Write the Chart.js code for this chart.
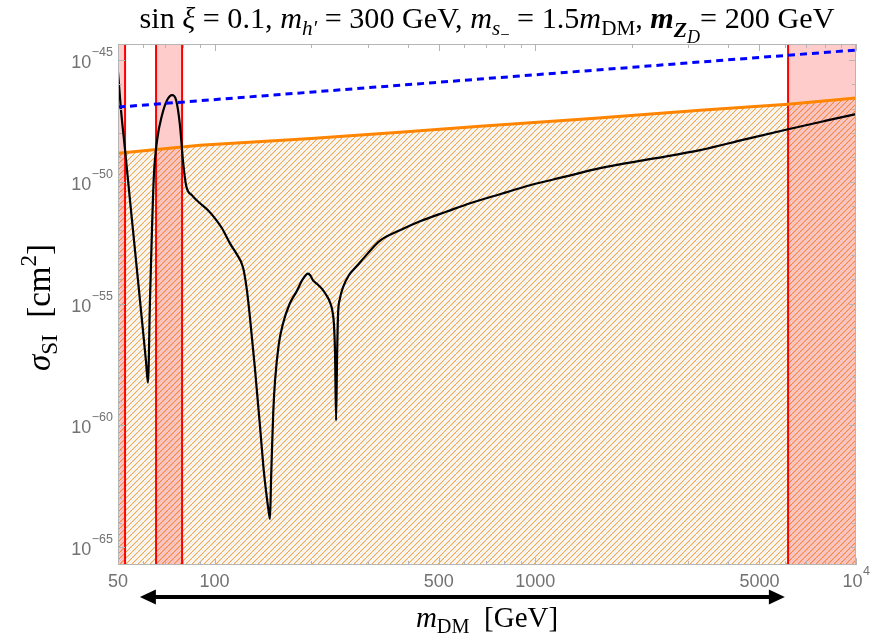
<!DOCTYPE html>
<html><head><meta charset="utf-8">
<script src="https://cdn.jsdelivr.net/npm/chart.js@4.4.1/dist/chart.umd.min.js"></script>
<style>html,body{margin:0;padding:0;background:#fff}canvas{display:block}</style>
</head><body>
<canvas id="c" width="885" height="636"></canvas>
<script>
// ---- data (x: m_DM in GeV, y: log10 of sigma_SI in cm^2) ----
const blackMass = [50, 51.1, 52.6, 54.5, 56.9, 59.4, 61.1, 62.0, 62.9, 63.8, 64.7, 66.2, 68.6, 71.1, 73.7, 75.9, 78.0, 79.7, 81.5, 85.1, 90.1, 95.4, 100.3, 105.5, 111.7, 117.0, 122.7, 126.0, 129.0, 133.5, 138.7, 142.0, 144.7, 147.0, 148.9, 150.0, 151.1, 152.5, 154.4, 158.5, 163.5, 171.0, 180.8, 188.0, 195.6, 199.0, 202.8, 209.0, 216.3, 223.0, 229.1, 233.0, 235.8, 237.5, 239.3, 241.0, 242.6, 246.0, 251.5, 262.0, 278.2, 300.0, 328.1, 380.0, 437.3, 530.0, 626.2, 780.0, 963, 1250, 1592, 2300, 3265, 4500, 6141, 8000, 10000];
const blackLogSigma = [-45.49, -47.06, -48.70, -50.76, -53.23, -55.70, -57.35, -58.25, -54.88, -52.0, -49.73, -48.29, -47.26, -46.65, -46.44, -46.65, -47.67, -49.12, -50.14, -50.56, -50.88, -51.17, -51.50, -51.91, -52.53, -52.95, -53.52, -54.40, -55.60, -57.60, -60.10, -61.70, -62.70, -63.40, -63.85, -62.30, -60.93, -59.40, -58.17, -56.70, -55.82, -55.05, -54.47, -54.02, -53.77, -53.85, -54.05, -54.20, -54.40, -54.65, -54.95, -55.30, -55.90, -57.00, -59.81, -57.20, -55.50, -54.80, -54.34, -53.85, -53.45, -52.95, -52.42, -51.98, -51.62, -51.22, -50.88, -50.50, -50.14, -49.78, -49.44, -49.06, -48.70, -48.26, -47.84, -47.50, -47.22];
const orangeMass = [50, 90, 200, 378, 673, 1500, 3265, 6141, 10000];
const orangeLogSigma = [-48.83, -48.50, -48.22, -47.96, -47.72, -47.40, -47.06, -46.81, -46.56];
const blueMass = [50, 3265, 10000];
const blueLogSigma = [-46.93, -45.08, -44.59];
const excludedBands = [[50, 52.6], [65.7, 79.2], [6140, 10000]];
const arrowRange = [58.5, 6000];
const xRange = [50, 10000];
const yLogRange = [-65.74, -44.34];
const xTickValues = [50, 100, 500, 1000, 5000, 10000];
const xTickLabels = [['50',''], ['100',''], ['500',''], ['1000',''], ['5000',''], ['10','4']];
const yTickExponents = [-65, -60, -55, -50, -45];
const titleRuns = [
  {t:'sin ', f:'r'}, {t:'\u03BE', f:'i'}, {t:' = 0.1, ', f:'r'},
  {t:'m', f:'i'}, {t:'h\u2032', f:'i', s:0.7, dy:0.22},
  {t:' = 300 GeV, ', f:'r'},
  {t:'m', f:'i'}, {t:'s', f:'i', s:0.7, dy:0.22}, {t:'\u2212', f:'r', s:0.55, dy:0.4},
  {t:' = 1.5', f:'r'}, {t:'m', f:'i'}, {t:'DM', f:'r', s:0.7, dy:0.22},
  {t:', ', f:'r'},
  {t:'m', f:'bi'}, {t:'Z', f:'bi', s:0.72, dy:0.3}, {t:'D', f:'i', s:0.6, dy:0.5},
  {t:'= 200 GeV', f:'r'}
];
const xLabelRuns = [{t:'m', f:'i'}, {t:'DM', f:'r', s:0.7, dy:0.22}, {t:'  [GeV]', f:'r'}];
const yLabelRuns = [{t:'\u03C3', f:'i'}, {t:'SI', f:'r', s:0.7, dy:0.22}, {t:'  [cm', f:'r'}, {t:'2', f:'r', s:0.7, dy:-0.42}, {t:']', f:'r'}];

// ---- helpers ----
function pts(xs, ls){ return xs.map((x,i)=>({x:x, y:Math.pow(10, ls[i])})); }
function runFont(r, size){
  const st = r.f==='i'?'italic ':r.f==='b'?'bold ':r.f==='bi'?'italic bold ':'';
  return st + (size*(r.s||1)).toFixed(2) + 'px "Liberation Serif", "DejaVu Serif", serif';
}
function measureRuns(ctx, runs, size){ let w=0; for(const r of runs){ ctx.font=runFont(r,size); w+=ctx.measureText(r.t).width; } return w; }
function drawRuns(ctx, runs, x0, y, size){
  let x=x0; ctx.textAlign='left'; ctx.textBaseline='alphabetic';
  for(const r of runs){ ctx.font=runFont(r,size); ctx.fillText(r.t, x, y+(r.dy||0)*size); x+=ctx.measureText(r.t).width; }
}
function makeHatch(){
  const s=6, c=document.createElement('canvas'); c.width=s; c.height=s;
  const g=c.getContext('2d');
  function diag(off, col, lw){
    g.strokeStyle=col; g.lineWidth=lw;
    for(let k=-1;k<=1;k++){ g.beginPath(); g.moveTo(k*s+off-s, s); g.lineTo(k*s+off, 0); g.stroke(); }
  }
  diag(s/2, 'rgba(150,150,150,0.22)', 0.8);
  diag(s, 'rgba(238,158,62,0.95)', 1.1);
  return g.createPattern(c, 'repeat');
}
const hatch = makeHatch();
const SANS = '"Liberation Sans", "DejaVu Sans", Arial, sans-serif';
const TICK_COLOR = '#727272';

const decor = {
  id:'decor',
  afterDatasetDraw(chart, args){
    if(args.index !== 3) return;
    const ctx=chart.ctx, xs=chart.scales.x, a=chart.chartArea;
    ctx.save();
    for(const b of excludedBands){
      const x1=xs.getPixelForValue(b[0]), x2=xs.getPixelForValue(b[1]);
      ctx.fillStyle='rgba(255,0,0,0.2)'; ctx.fillRect(x1, a.top, x2-x1, a.bottom-a.top);
      ctx.strokeStyle='#ff0000'; ctx.lineWidth=2;
      for(const v of b){ if(v>xRange[0] && v<xRange[1]){ const px=xs.getPixelForValue(v); ctx.beginPath(); ctx.moveTo(px,a.top); ctx.lineTo(px,a.bottom); ctx.stroke(); } }
    }
    ctx.restore();
  },
  afterDraw(chart){
    const ctx=chart.ctx, xs=chart.scales.x, ys=chart.scales.y, a=chart.chartArea;
    ctx.save();
    // frame
    ctx.strokeStyle='#b5b5b5'; ctx.lineWidth=1;
    ctx.strokeRect(a.left+0.5, a.top+0.5, a.right-a.left-1, a.bottom-a.top-1);
    // inward ticks
    ctx.beginPath();
    for(let d=10; d<=10000; d*=10){
      for(let k=1;k<=9;k++){
        const v=k*d; if(v<xRange[0]||v>xRange[1]) continue;
        const L = xTickValues.includes(v) ? 7 : 4;
        const px=Math.round(xs.getPixelForValue(v))+0.5;
        ctx.moveTo(px,a.bottom); ctx.lineTo(px,a.bottom-L);
        ctx.moveTo(px,a.top); ctx.lineTo(px,a.top+L);
      }
    }
    for(let e=-65;e<=-45;e++){
      const L = (e%5===0) ? 7 : 4;
      const py=Math.round(ys.getPixelForValue(Math.pow(10,e)))+0.5;
      ctx.moveTo(a.left,py); ctx.lineTo(a.left+L,py);
      ctx.moveTo(a.right,py); ctx.lineTo(a.right-L,py);
    }
    ctx.stroke();
    // tick labels
    ctx.fillStyle=TICK_COLOR; ctx.textBaseline='alphabetic';
    for(const e of yTickExponents){
      const py=ys.getPixelForValue(Math.pow(10,e));
      const exp='\u2212'+String(-e);
      ctx.font='12.5px '+SANS; const we=ctx.measureText(exp).width;
      ctx.textAlign='right';
      ctx.fillText(exp, a.left-5, py-4);
      ctx.font='18px '+SANS;
      ctx.fillText('10', a.left-5-we-0.5, py+8);
    }
    xTickValues.forEach((v,i)=>{
      const px=xs.getPixelForValue(v), lab=xTickLabels[i];
      ctx.font='18px '+SANS; const wb=ctx.measureText(lab[0]).width;
      ctx.font='12.5px '+SANS; const we=lab[1]?ctx.measureText(lab[1]).width:0;
      const x0=px-(wb+we)/2;
      ctx.textAlign='left';
      ctx.font='18px '+SANS; ctx.fillText(lab[0], x0, a.bottom+22);
      if(lab[1]){ ctx.font='12.5px '+SANS; ctx.fillText(lab[1], x0+wb+0.5, a.bottom+10); }
    });
    // arrow
    const ay=a.bottom+32, x1=xs.getPixelForValue(arrowRange[0]), x2=xs.getPixelForValue(arrowRange[1]);
    ctx.fillStyle='#000'; ctx.strokeStyle='#000'; ctx.lineWidth=4;
    ctx.beginPath(); ctx.moveTo(x1+12,ay); ctx.lineTo(x2-12,ay); ctx.stroke();
    ctx.beginPath(); ctx.moveTo(x1,ay); ctx.lineTo(x1+16,ay-7.5); ctx.lineTo(x1+16,ay+7.5); ctx.closePath(); ctx.fill();
    ctx.beginPath(); ctx.moveTo(x2,ay); ctx.lineTo(x2-16,ay-7.5); ctx.lineTo(x2-16,ay+7.5); ctx.closePath(); ctx.fill();
    // title
    ctx.fillStyle='#000';
    let ts=26; const tw=measureRuns(ctx,titleRuns,ts); ts=ts*695/tw;
    const tw2=measureRuns(ctx,titleRuns,ts);
    drawRuns(ctx,titleRuns,(a.left+a.right)/2 - tw2/2, 28, ts);
    // x label
    const xsz=29, xw=measureRuns(ctx,xLabelRuns,xsz);
    drawRuns(ctx,xLabelRuns,(a.left+a.right)/2 - xw/2, 627, xsz);
    // y label
    const ysz=33, yw=measureRuns(ctx,yLabelRuns,ysz);
    ctx.translate(50,(a.top+a.bottom)/2+3); ctx.rotate(-Math.PI/2);
    drawRuns(ctx,yLabelRuns,-yw/2,0,ysz);
    ctx.restore();
  }
};

new Chart(document.getElementById('c'), {
  type:'line',
  data:{datasets:[
    {label:'blue', data:pts(blueMass, blueLogSigma), borderColor:'#0000ff', borderWidth:3, borderDash:[7,5], pointRadius:0, fill:false},
    {label:'black', data:pts(blackMass, blackLogSigma), borderColor:'#000000', borderWidth:2.2, pointRadius:0, fill:false, cubicInterpolationMode:'monotone'},
    {label:'orange', data:pts(orangeMass, orangeLogSigma), borderColor:'#ff8500', borderWidth:3, pointRadius:0, fill:false},
    {label:'hatch', data:pts(orangeMass, orangeLogSigma), borderWidth:0, borderColor:'rgba(0,0,0,0)', backgroundColor:hatch, pointRadius:0, fill:'start'}
  ]},
  options:{
    responsive:false, animation:false, devicePixelRatio:1,
    layout:{padding:{left:0, right:29, top:44, bottom:0}},
    plugins:{legend:{display:false}, tooltip:{enabled:false}, title:{display:false}},
    scales:{
      x:{type:'logarithmic', min:xRange[0], max:xRange[1],
        grid:{display:false, drawTicks:false}, border:{display:false},
        afterBuildTicks:(s)=>{ s.ticks = xTickValues.map(v=>({value:v})); },
        afterFit:(s)=>{ s.height=71; },
        ticks:{display:false}
      },
      y:{type:'logarithmic', min:Math.pow(10,yLogRange[0]), max:Math.pow(10,yLogRange[1]),
        grid:{display:false, drawTicks:false}, border:{display:false},
        afterBuildTicks:(s)=>{ s.ticks = yTickExponents.map(e=>({value:Math.pow(10,e)})); },
        afterFit:(s)=>{ s.width=118; },
        ticks:{display:false}
      }
    }
  },
  plugins:[decor]
});
</script>
</body></html>
